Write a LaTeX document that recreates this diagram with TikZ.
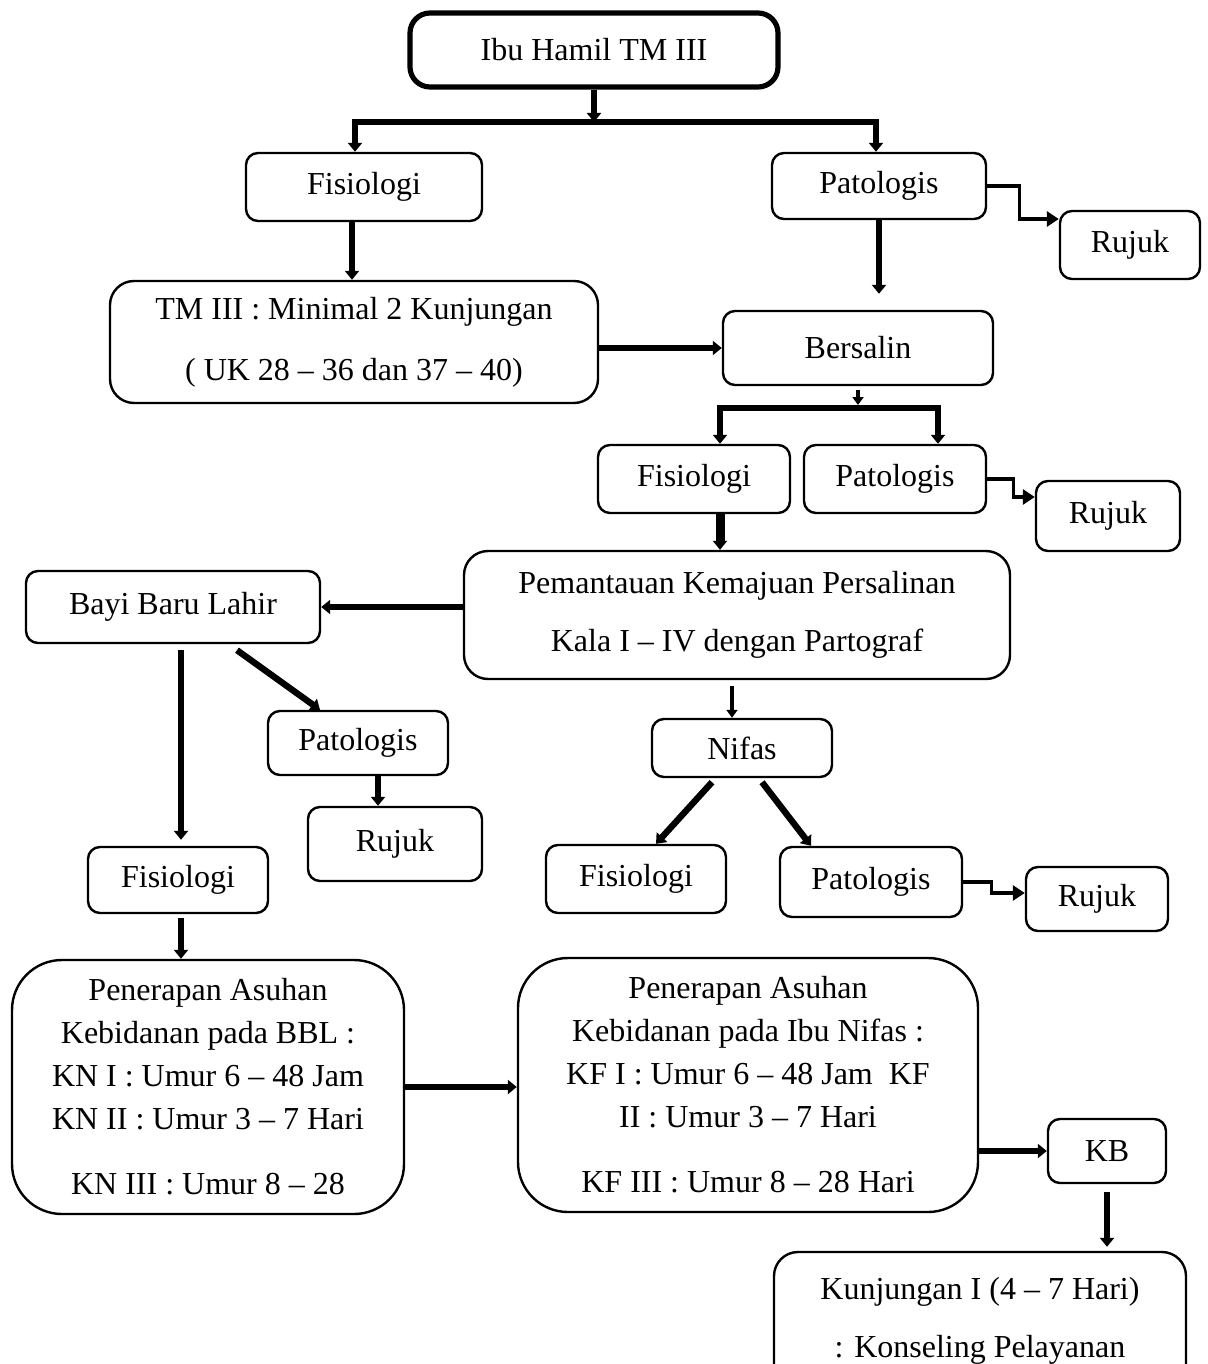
\documentclass[tikz,border=0pt]{standalone}
\usepackage{fontspec}
\setmainfont{Liberation Serif}
\usetikzlibrary{arrows.meta}
\tikzset{
  roundbox/.style={draw, line width=1.2pt, rounded corners=6pt, align=center, inner sep=0pt, font=\fontsize{16}{21.5}\selectfont},
  widebox/.style={roundbox, rounded corners=12pt},
  bigbox/.style={roundbox, rounded corners=25pt},
  fatline/.style={line width=3.2pt},
  fatarrow/.style={line width=3.2pt, -{Triangle[length=4.5pt,width=7pt]}},
  medarrow/.style={line width=2pt, -{Triangle[length=4pt,width=5.5pt]}},
  elbowarrow/.style={line width=1.6pt, -{Triangle[length=6pt,width=7.5pt]}}
}
\begin{document}
\begin{tikzpicture}[x=0.5pt,y=-0.5pt]
\useasboundingbox (0,0) rectangle (1208,1364);
\node[roundbox, line width=2.6pt, rounded corners=10pt, minimum width=184pt, minimum height=37pt] (ibu) at (594,50) {Ibu Hamil TM III};
\node[roundbox, minimum width=118pt, minimum height=34pt] (fis1) at (364,187) {Fisiologi};
\node[roundbox, minimum width=107pt, minimum height=33pt] (pat1) at (879,186) {Patologis};
\node[roundbox, minimum width=70pt, minimum height=34pt] (rujuk1) at (1130,245) {Rujuk};
\node[widebox, minimum width=244pt, minimum height=61pt] (tm) at (354,342) {TM III : Minimal 2 Kunjungan\\[9pt]( UK 28 – 36 dan 37 – 40)};
\node[roundbox, minimum width=135pt, minimum height=37pt] (bersalin) at (858,348) {Bersalin};
\node[roundbox, minimum width=96pt, minimum height=34pt] (fis2) at (694,479) {Fisiologi};
\node[roundbox, minimum width=91pt, minimum height=34pt] (pat2) at (895,479) {Patologis};
\node[roundbox, minimum width=72pt, minimum height=35pt] (rujuk2) at (1108,516) {Rujuk};
\node[widebox, minimum width=273pt, minimum height=64pt] (pem) at (737,615) {Pemantauan Kemajuan Persalinan\\[7.5pt]Kala I – IV dengan Partograf};
\node[roundbox, minimum width=147pt, minimum height=36pt] (bayi) at (173,607) {Bayi Baru Lahir};
\node[roundbox, minimum width=90pt, minimum height=32pt] (pat3) at (358,743) {Patologis};
\node[roundbox, minimum width=87pt, minimum height=37pt] (rujuk3) at (395,844) {Rujuk};
\node[roundbox, minimum width=90pt, minimum height=33pt] (fis3) at (178,880) {Fisiologi};
\node[roundbox, minimum width=90pt, minimum height=29pt] (nifas) at (742,748) {Nifas};
\node[roundbox, minimum width=90pt, minimum height=34pt] (fis4) at (636,879) {Fisiologi};
\node[roundbox, minimum width=91pt, minimum height=35pt] (pat4) at (871,882) {Patologis};
\node[roundbox, minimum width=71pt, minimum height=32pt] (rujuk4) at (1097,899) {Rujuk};
\node[bigbox, minimum width=196pt, minimum height=127pt] (bbl) at (208,1087) {Penerapan Asuhan\\Kebidanan pada BBL :\\KN I : Umur 6 – 48 Jam\\KN II : Umur 3 – 7 Hari\\[11pt]KN III : Umur 8 – 28};
\node[bigbox, minimum width=230pt, minimum height=127pt] (asuhan) at (748,1085) {Penerapan Asuhan\\Kebidanan pada Ibu Nifas :\\KF I : Umur 6 – 48 Jam~~KF\\II : Umur 3 – 7 Hari\\[11pt]KF III : Umur 8 – 28 Hari};
\node[roundbox, minimum width=59pt, minimum height=32pt] (kb) at (1107,1151) {KB};
\node[widebox, minimum width=206pt, minimum height=69pt] (kunjungan) at (980,1321) {Kunjungan I (4 – 7 Hari)\\[7.5pt]: Konseling Pelayanan};
\coordinate (topsplit) at (594,122);
\coordinate (splitl) at (355,122);
\coordinate (splitr) at (876,122);
\coordinate (midsplit) at (858,405);
\coordinate (midl) at (720,408);
\coordinate (midr) at (938,408);
\draw[fatarrow] (ibu.south) -- (topsplit);
\draw[fatline, line cap=rect] (splitl) -- (splitr);
\draw[fatarrow] (splitl) -- (splitl |- fis1.north);
\draw[fatarrow] (splitr) -- (splitr |- pat1.north);
\draw[fatarrow] ([xshift=-6pt]fis1.south) -- ([xshift=-6pt]fis1.south |- tm.north);
\draw[fatarrow] (pat1.south) -- ([yshift=8pt]pat1.south |- bersalin.north);
\draw[elbowarrow] (pat1.east) -- ++(32,0) |- ([yshift=13pt]rujuk1.west);
\draw[fatarrow] (tm.east |- bersalin.west) -- (bersalin.west);
\draw[medarrow] ([yshift=-2pt]bersalin.south) -- (midsplit);
\draw[fatline, line cap=rect] (midl) -- (midr);
\draw[fatarrow] (midl) -- (midl |- fis2.north);
\draw[fatarrow] (midr) -- (midr |- pat2.north);
\draw[elbowarrow] (pat2.east) -- ++(26,0) |- ([yshift=9.5pt]rujuk2.west);
\draw[fatarrow, line width=4.5pt] ([xshift=13pt]fis2.south) -- ([xshift=13pt]fis2.south |- pem.north);
\draw[fatarrow] (pem.west |- bayi.east) -- (bayi.east);
\draw[fatarrow] ([xshift=32pt,yshift=-3pt]bayi.south) -- ([xshift=-19pt]pat3.north);
\draw[fatarrow] ([xshift=4pt,yshift=-3pt]bayi.south) -- ([xshift=4pt,yshift=3pt]bayi.south |- fis3.north);
\draw[fatarrow] ([xshift=10pt]pat3.south) -- ([xshift=10pt]pat3.south |- rujuk3.north);
\draw[medarrow] ([xshift=-2.5pt,yshift=-3pt]pem.south) -- ([xshift=-2.5pt]pem.south |- nifas.north);
\draw[fatarrow] ([xshift=-15pt,yshift=-2pt]nifas.south) -- ([xshift=10pt]fis4.north);
\draw[fatarrow] ([xshift=10pt,yshift=-2pt]nifas.south) -- ([xshift=-30pt]pat4.north);
\draw[elbowarrow] (pat4.east) -- ++(28,0) |- ([yshift=3pt]rujuk4.west);
\draw[fatarrow] ([xshift=1.5pt,yshift=-2pt]fis3.south) -- ([xshift=1.5pt]fis3.south |- bbl.north);
\draw[fatarrow] (bbl.east) -- (bbl.east -| asuhan.west);
\draw[fatarrow] (asuhan.east |- kb.west) -- (kb.west);
\draw[fatarrow] ([yshift=-4pt]kb.south) -- ([yshift=2pt]kb.south |- kunjungan.north);
\end{tikzpicture}
\end{document}
